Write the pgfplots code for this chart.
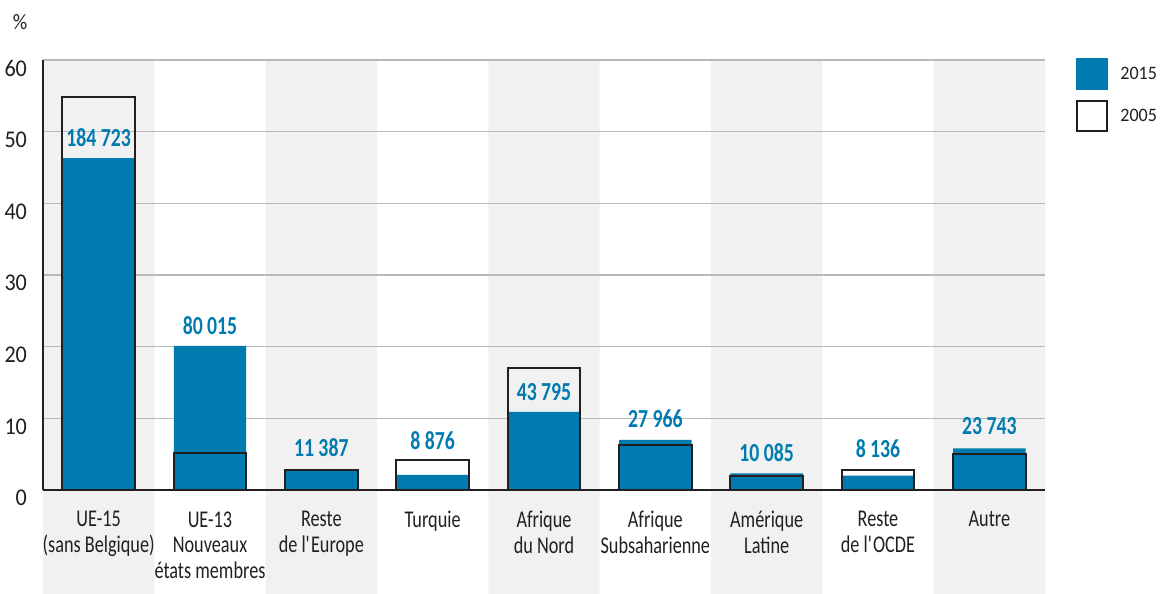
\documentclass[border=0pt]{standalone}
\usepackage{fontspec}
\setmainfont{Carlito}[FakeStretch=0.76]
\newfontfamily\legfont{Carlito}[FakeStretch=0.95]
\newfontfamily\tickfont{Carlito}[FakeStretch=0.92]
\usepackage{pgfplots}
\pgfplotsset{compat=1.18}
\definecolor{myblue}{RGB}{0,123,176}
\definecolor{band}{RGB}{241,241,241}
\definecolor{gridc}{RGB}{185,185,185}
\definecolor{dark}{RGB}{35,31,32}
\pgfplotsset{
 layers/mylayers/.define layer set={axis background,axis grid,axis ticks,axis tick labels,pre main,main,axis lines,axis descriptions,axis foreground}{
   grid style={/pgfplots/on layer=axis grid},
   tick style={/pgfplots/on layer=axis ticks},
   axis line style={/pgfplots/on layer=axis lines},
   label style={/pgfplots/on layer=axis descriptions},
   legend style={/pgfplots/on layer=axis descriptions},
   title style={/pgfplots/on layer=axis descriptions},
   ticklabel style={/pgfplots/on layer=axis tick labels},
 },
 filllegend/.style={legend image code/.code={\path[##1] (0pt,-8pt) rectangle (16pt,8pt);}},
 boxlegend/.style={legend image code/.code={\path[##1] (0.5pt,-7.5pt) rectangle (15.5pt,7.5pt);}},
}
\begin{document}
\begin{tikzpicture}
\begin{axis}[
  name=ax, set layers=mylayers,
  scale only axis, width=501pt, height=215pt,
  xmin=-0.5, xmax=8.5, ymin=0, ymax=60,
  clip=false,
  axis lines=left, axis line style={-, draw=dark, line width=1pt},
  ytick={0,10,...,60}, xtick={0,...,8},
  xticklabels={{UE-15\\(sans Belgique)},{UE-13\\Nouveaux\\états membres},{Reste\\de l\textquotesingle Europe},{Turquie},{Afrique\\du Nord},{Afrique\\Subsaharienne},{Amérique\\Latine},{Reste\\de l\textquotesingle OCDE},{Autre}},
  major tick length=0pt,
  ymajorgrids, grid style={draw=gridc, line width=0.6pt},
  xticklabel style={align=center, yshift=-7.2pt, font=\fontsize{12}{12.75}\selectfont, text=dark},
  yticklabel style={xshift=-4.5pt, yshift=-4pt, font=\tickfont\fontsize{12}{12}\selectfont, text=dark},
  /pgf/number format/assume math mode=true,
  ylabel={\%},
  every axis y label/.style={at={(rel axis cs:0,1)}, anchor=center, xshift=-11.5pt, yshift=19pt, font=\tickfont\fontsize{11}{12}\selectfont, text=dark},
  legend style={at={(rel axis cs:1,1)}, anchor=north west, xshift=15.5pt, yshift=1pt, draw=none, fill=none, inner sep=0pt, row sep=5pt, column sep=6pt, nodes={inner sep=0pt}, font=\legfont\fontsize{9.5}{10}\selectfont, text=dark},
  legend cell align=left,
]
\addplot[ybar, bar width=1, bar shift=0pt, fill=band, draw=none, forget plot, on layer=axis background] coordinates {(0,60)(2,60)(4,60)(6,60)(8,60)};
\addplot[ybar, bar width=1, bar shift=0pt, fill=band, draw=none, forget plot, on layer=axis background] coordinates {(0,-14.5)(2,-14.5)(4,-14.5)(6,-14.5)(8,-14.5)};
\addplot[ybar, bar width=0.65, bar shift=0pt, fill=myblue, draw=none, filllegend]
  coordinates {(0,46.3)(1,20.1)(2,2.8)(3,2.1)(4,10.9)(5,7.0)(6,2.33)(7,2.0)(8,5.8)};
\addplot[ybar, bar width=0.65, bar shift=0pt, fill=none, draw=dark, line width=1pt, boxlegend]
  coordinates {(0,54.9)(1,5.1)(2,2.8)(3,4.2)(4,17.0)(5,6.3)(6,2.0)(7,2.8)(8,5.07)};
\addplot[only marks, mark=none, forget plot, nodes near coords, point meta=explicit symbolic,
  every node near coord/.append style={anchor=center, inner sep=0pt, font=\bfseries\fontsize{13}{13}\selectfont, text=myblue}]
  coordinates {(0,49.1)[184\,723] (1,22.9)[80\,015] (2,5.86)[11\,387] (3,6.9)[8\,876] (4,13.6)[43\,795] (5,9.9)[27\,966] (6,5.23)[10\,085] (7,5.8)[8\,136] (8,8.9)[23\,743]};
\legend{2015,2005}
\end{axis}
\pgfresetboundingbox
\path ([xshift=-21.5pt, yshift=-52pt]ax.south west) rectangle ([xshift=58pt, yshift=30pt]ax.north east);
\end{tikzpicture}
\end{document}
